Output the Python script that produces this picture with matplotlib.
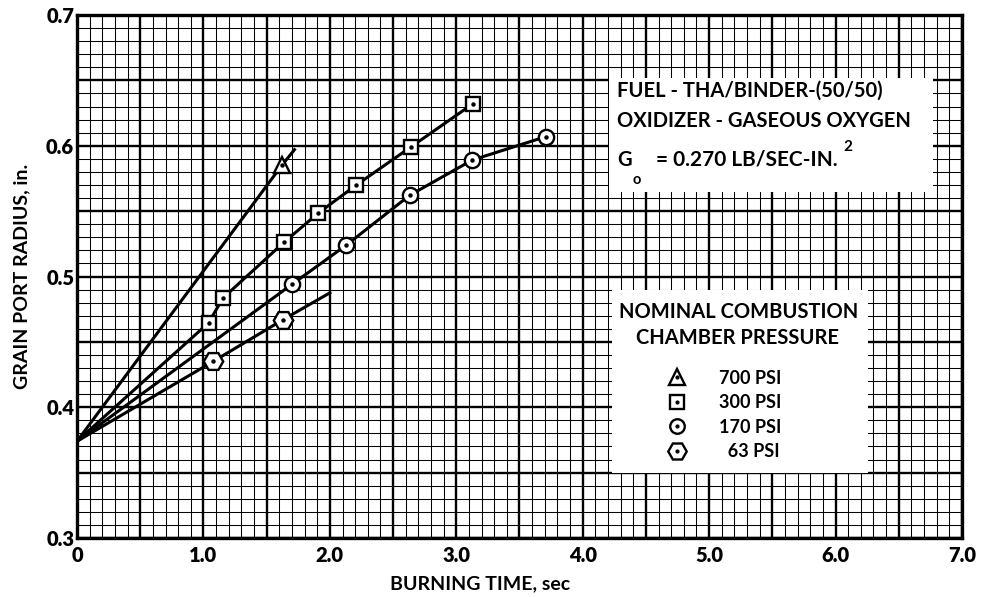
import numpy as np
import matplotlib.pyplot as plt
from matplotlib.patches import Rectangle
from matplotlib.lines import Line2D
from matplotlib.ticker import MultipleLocator, FuncFormatter

plt.rcParams['font.family'] = ['Lato', 'DejaVu Sans']

# measured points (burning time sec, port radius in.)
t_700 = [1.62]
r_700 = [0.585]
t_300 = [1.04, 1.155, 1.64, 1.91, 2.21, 2.64, 3.13]
r_300 = [0.4645, 0.4836, 0.5264, 0.5486, 0.570, 0.599, 0.632]
t_170 = [1.70, 2.13, 2.63, 3.125, 3.71]
r_170 = [0.494, 0.524, 0.562, 0.589, 0.607]
t_63 = [1.076, 1.63]
r_63 = [0.435, 0.467]

# faired curves, all starting from the initial port radius
r_start = 0.374
curve_700_t = [0.0, 1.62, 1.72]
curve_700_r = [r_start, 0.585, 0.597]
curve_300_t = [0.0] + t_300
curve_300_r = [r_start] + r_300
curve_170_t = [0.0] + t_170
curve_170_r = [r_start] + r_170
curve_63_t = [0.0, 1.076, 1.63, 2.0]
curve_63_r = [r_start, 0.435, 0.467, 0.4875]

labels = ["700 PSI", "300 PSI", "170 PSI", "  63 PSI"]

fig = plt.figure(figsize=(9.85, 5.97), dpi=100)
ax = fig.add_axes([0.0782, 0.0988, 0.8984, 0.8761])

ax.set_xlim(0, 7)
ax.set_ylim(0.3, 0.7)

# graph paper grid
ax.xaxis.set_major_locator(MultipleLocator(0.5))
ax.xaxis.set_minor_locator(MultipleLocator(0.1))
ax.yaxis.set_major_locator(MultipleLocator(0.05))
ax.yaxis.set_minor_locator(MultipleLocator(0.01))
ax.xaxis.set_major_formatter(FuncFormatter(
    lambda v, p: ("0" if abs(v) < 1e-9 else f"{v:.1f}") if abs(v - round(v)) < 1e-6 else ""))
ax.yaxis.set_major_formatter(FuncFormatter(
    lambda v, p: f"{v:.1f}" if abs(v * 10 - round(v * 10)) < 1e-6 else ""))
ax.set_axisbelow(True)
ax.grid(which='major', color='black', lw=1.7)
ax.grid(which='minor', color='black', lw=0.75)
ax.tick_params(which='both', length=0)
ax.tick_params(axis='x', pad=6, labelsize=14.5)
ax.tick_params(axis='y', pad=2, labelsize=14.5)
for lab in ax.get_xticklabels() + ax.get_yticklabels():
    lab.set_fontweight('heavy')
for s in ax.spines.values():
    s.set_linewidth(2.4)

# white label boxes on the paper
ax.add_patch(Rectangle((0.601, 0.662), 0.366, 0.218, transform=ax.transAxes,
                       facecolor='white', edgecolor='none', zorder=2))
ax.add_patch(Rectangle((0.605, 0.124), 0.289, 0.350, transform=ax.transAxes,
                       facecolor='white', edgecolor='none', zorder=2))

tk = dict(transform=ax.transAxes, fontsize=14.5, fontweight='bold', zorder=4, va='center')
ax.text(0.610, 0.855, "FUEL - THA/BINDER-(50/50)", **tk)
ax.text(0.610, 0.797, "OXIDIZER - GASEOUS OXYGEN", **tk)
g = ax.text(0.610, 0.723, "G", **tk)
ax.annotate("o", xy=(1, 0), xycoords=g, xytext=(1, -7), textcoords='offset points',
            fontsize=10.5, fontweight='bold', va='center', zorder=4)
rate = ax.annotate("= 0.270 LB/SEC-IN.", xy=(1, 0.5), xycoords=g, xytext=(18, 0),
                   textcoords='offset points', fontsize=15, fontweight='bold',
                   va='center', zorder=4)
ax.annotate("2", xy=(1, 1), xycoords=rate, xytext=(4, 2), textcoords='offset points',
            fontsize=11, fontweight='bold', va='center', zorder=4)

ax.text(0.748, 0.432, "NOMINAL COMBUSTION", ha='center', **tk)
ax.text(0.746, 0.382, "CHAMBER PRESSURE", ha='center', **tk)

# curves
lk = dict(color='black', lw=2.2, zorder=3)
ax.plot(curve_700_t, curve_700_r, **lk)
ax.plot(curve_300_t, curve_300_r, **lk)
ax.plot(curve_170_t, curve_170_r, **lk)
ax.plot(curve_63_t, curve_63_r, **lk)

# data markers with centre dots
mk = dict(ls='none', mfc='white', mec='black', mew=1.7, zorder=5)
series = [(t_700, r_700, '^', 11.5), (t_300, r_300, 's', 10.5),
          (t_170, r_170, 'o', 11), (t_63, r_63, 'H', 14)]
handles = []
for (t, r, m, ms), lab in zip(series, labels):
    ax.plot(t, r, marker=m, ms=ms, **mk)
    ax.plot(t, r, ls='none', marker='o', ms=2.2, color='black', zorder=6)
    handles.append((Line2D([], [], ls='none', marker=m, ms=ms * 0.95, mfc='white', mec='black', mew=1.7),
                    Line2D([], [], ls='none', marker='o', ms=2.0, color='black')))

leg = ax.legend(handles, labels, loc='upper left', bbox_to_anchor=(0.668, 0.322),
                frameon=False, handlelength=1.0, handletextpad=1.8,
                labelspacing=0.42, borderpad=0, borderaxespad=0,
                prop={'family': ['Lato', 'DejaVu Sans'], 'weight': 'bold', 'size': 13})
leg.set_zorder(4)

ax.set_xlabel("BURNING TIME, sec", fontsize=14, fontweight='bold')
ax.xaxis.set_label_coords(0.455, -0.072)
ax.set_ylabel("GRAIN PORT RADIUS, in.", fontsize=14, fontweight='bold')
ax.yaxis.set_label_coords(-0.053, 0.5)

fig.savefig("out.png", dpi=100)
